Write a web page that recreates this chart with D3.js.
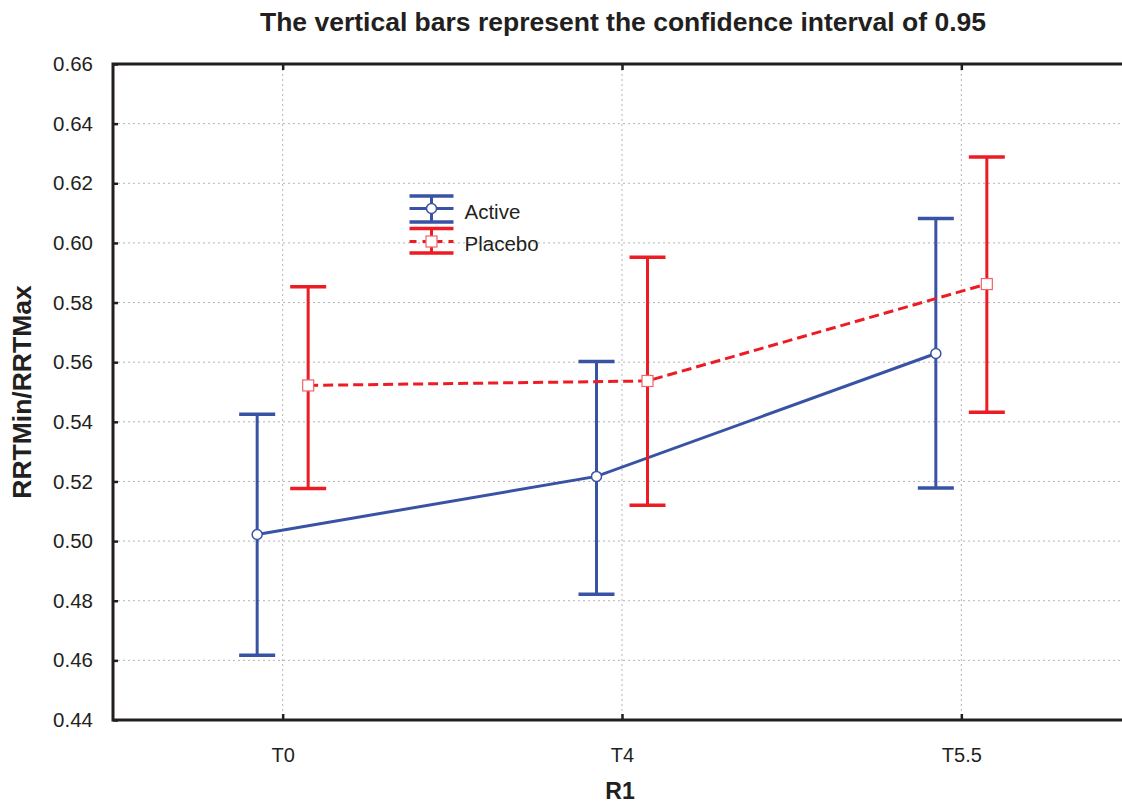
<!DOCTYPE html>
<html>
<head>
<meta charset="utf-8">
<script src="https://cdn.jsdelivr.net/npm/d3@7"></script>
<style>
  body { margin: 0; background: #fff; }
  svg { display: block; font-family: "Liberation Sans", Arial, sans-serif; }
</style>
</head>
<body>
<div id="chart"></div>
<script>
// data
var categories = ['T0', 'T4', 'T5.5'];
var seriesNames = ['Active', 'Placebo'];
var activeMean = [0.5022, 0.5217, 0.5629];
var activeLow = [0.4617, 0.4822, 0.5178];
var activeHigh = [0.5425, 0.5602, 0.6082];
var placeboMean = [0.5522, 0.5537, 0.5862];
var placeboLow = [0.5176, 0.512, 0.5432];
var placeboHigh = [0.5853, 0.5952, 0.6288];
var yTicks = [0.44, 0.46, 0.48, 0.50, 0.52, 0.54, 0.56, 0.58, 0.60, 0.62, 0.64, 0.66];

var width = 1122, height = 804;
var plot = { left: 113, right: 1131, top: 64, bottom: 720 };
var font = '"Liberation Sans", Arial, sans-serif';

var svg = d3.select('#chart')
  .append('svg')
  .attr('width', width)
  .attr('height', height);

var x = d3.scalePoint()
  .domain(categories)
  .range([plot.left, plot.right])
  .padding(0.5);

var offset = d3.scalePoint()
  .domain(seriesNames)
  .range([-25.5, 25.5]);

var y = d3.scaleLinear()
  .domain([0.44, 0.66])
  .range([plot.bottom, plot.top]);

var series = [
  { name: 'Active', mean: activeMean, low: activeLow, high: activeHigh, color: '#3953a4', dash: null, marker: 'circle' },
  { name: 'Placebo', mean: placeboMean, low: placeboLow, high: placeboHigh, color: '#ed1c24', dash: '10,5', marker: 'square' }
];

// grid
var grid = svg.append('g').attr('stroke', '#b4b4b4').attr('stroke-width', 1).attr('stroke-dasharray', '2,3');
grid.selectAll('line.h')
  .data(yTicks.slice(1, -1))
  .enter().append('line')
  .attr('x1', plot.left).attr('x2', plot.right)
  .attr('y1', function (d) { return y(d); })
  .attr('y2', function (d) { return y(d); });
grid.selectAll('line.v')
  .data(categories)
  .enter().append('line')
  .attr('x1', function (d) { return x(d); })
  .attr('x2', function (d) { return x(d); })
  .attr('y1', plot.top).attr('y2', plot.bottom);

// axes (ticks point inward)
var yAxis = d3.axisLeft(y).tickValues(yTicks).tickFormat(d3.format('.2f')).tickSize(-5).tickPadding(20);
var gy = svg.append('g').attr('transform', 'translate(' + plot.left + ',0)').call(yAxis);
gy.select('.domain').remove();
gy.selectAll('.tick line').attr('stroke', '#231f20').attr('stroke-width', 2.5);
gy.selectAll('.tick text')
  .style('font-size', '20.5px').style('font-family', font)
  .attr('fill', '#231f20');

var xAxis = d3.axisBottom(x).tickSize(-6);
var gx = svg.append('g').attr('transform', 'translate(0,' + plot.bottom + ')').call(xAxis);
gx.select('.domain').remove();
gx.selectAll('.tick line').attr('stroke', '#231f20').attr('stroke-width', 2.5);
gx.selectAll('.tick text')
  .attr('y', 42).attr('dy', 0)
  .style('font-size', '20px').style('font-family', font)
  .attr('fill', '#231f20');

var gxTop = svg.append('g').attr('transform', 'translate(0,' + plot.top + ')').call(d3.axisTop(x).tickSize(-6).tickFormat(''));
gxTop.select('.domain').remove();
gxTop.selectAll('.tick line').attr('stroke', '#231f20').attr('stroke-width', 2.5);

// frame
svg.append('rect')
  .attr('x', plot.left).attr('y', plot.top)
  .attr('width', plot.right - plot.left).attr('height', plot.bottom - plot.top)
  .attr('fill', 'none').attr('stroke', '#231f20').attr('stroke-width', 3);

var capHalf = 18;

series.forEach(function (s) {
  var g = svg.append('g');
  var px = function (i) { return x(categories[i]) + offset(s.name); };

  // connecting line
  var line = d3.line()
    .x(function (d, i) { return px(i); })
    .y(function (d) { return y(d); });
  g.append('path')
    .datum(s.mean)
    .attr('d', line)
    .attr('fill', 'none')
    .attr('stroke', s.color)
    .attr('stroke-width', 3)
    .attr('stroke-dasharray', s.dash);

  // error bars
  categories.forEach(function (c, i) {
    var cx = px(i);
    g.append('line')
      .attr('x1', cx).attr('x2', cx)
      .attr('y1', y(s.low[i])).attr('y2', y(s.high[i]))
      .attr('stroke', s.color).attr('stroke-width', 3);
    [s.low[i], s.high[i]].forEach(function (v) {
      g.append('line')
        .attr('x1', cx - capHalf).attr('x2', cx + capHalf)
        .attr('y1', y(v)).attr('y2', y(v))
        .attr('stroke', s.color).attr('stroke-width', 3.5);
    });
  });

  // markers
  s.mean.forEach(function (v, i) {
    drawMarker(g, s, px(i), y(v));
  });
});

function drawMarker(g, s, cx, cy) {
  if (s.marker === 'circle') {
    g.append('circle')
      .attr('cx', cx).attr('cy', cy).attr('r', 5)
      .attr('fill', '#fff').attr('stroke', s.color).attr('stroke-width', 1.5);
  } else {
    g.append('rect')
      .attr('x', cx - 5.5).attr('y', cy - 5.5)
      .attr('width', 11).attr('height', 11)
      .attr('fill', '#fff').attr('stroke', '#f0646a').attr('stroke-width', 1.2);
  }
}

// legend
var legend = svg.append('g').attr('transform', 'translate(431.5,0)');
var legendRows = [
  { s: series[0], top: 196, mid: 208.5, bottom: 222, base: 219 },
  { s: series[1], top: 228.5, mid: 241.5, bottom: 253, base: 250.5 }
];
legendRows.forEach(function (r) {
  var l = legend.append('g');
  l.append('line').attr('x1', 0).attr('x2', 0).attr('y1', r.top).attr('y2', r.bottom)
    .attr('stroke', r.s.color).attr('stroke-width', 3);
  [r.top, r.bottom].forEach(function (yy) {
    l.append('line').attr('x1', -22).attr('x2', 22).attr('y1', yy).attr('y2', yy)
      .attr('stroke', r.s.color).attr('stroke-width', 3.5);
  });
  l.append('line').attr('x1', -22).attr('x2', 22).attr('y1', r.mid).attr('y2', r.mid)
    .attr('stroke', r.s.color).attr('stroke-width', 3).attr('stroke-dasharray', r.s.dash ? '7,6' : null);
  drawMarker(l, r.s, 0, r.mid);
  l.append('text')
    .attr('x', 33).attr('y', r.base)
    .style('font-size', '20.5px').attr('fill', '#231f20')
    .text(r.s.name);
});

// titles
svg.append('text')
  .attr('x', 623).attr('y', 31)
  .attr('text-anchor', 'middle')
  .style('font-size', '26.5px').attr('font-weight', 'bold').attr('fill', '#231f20')
  .text('The vertical bars represent the confidence interval of 0.95');

svg.append('text')
  .attr('x', 620).attr('y', 799)
  .attr('text-anchor', 'middle')
  .style('font-size', '23px').attr('font-weight', 'bold').attr('fill', '#231f20')
  .text('R1');

svg.append('text')
  .attr('transform', 'translate(31,392) rotate(-90)')
  .attr('text-anchor', 'middle')
  .style('font-size', '26.5px').attr('font-weight', 'bold').attr('fill', '#231f20')
  .text('RRTMin/RRTMax');
</script>
</body>
</html>
